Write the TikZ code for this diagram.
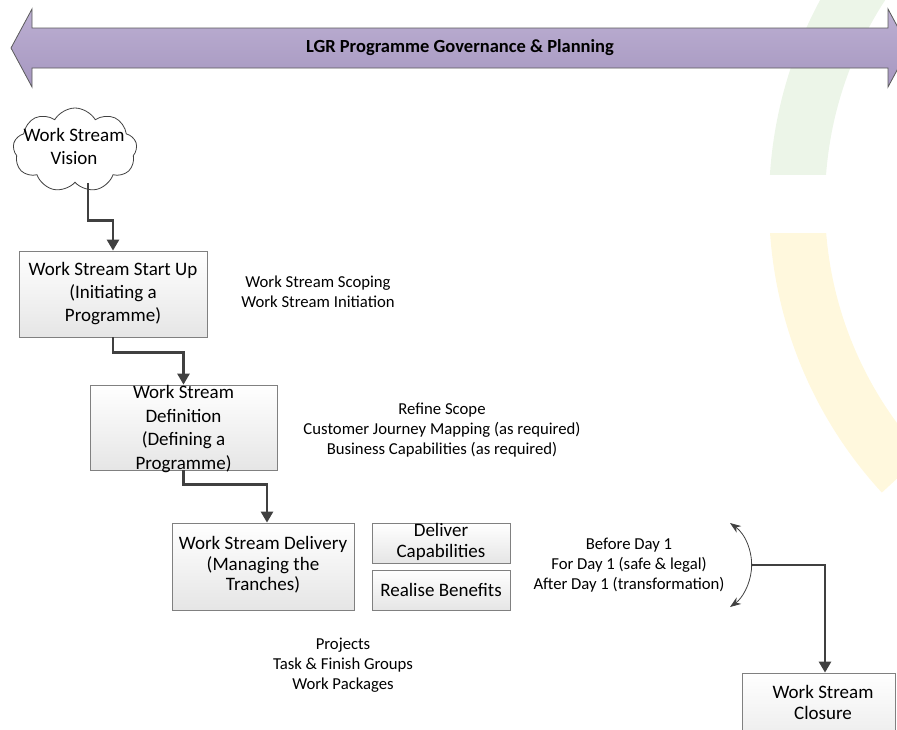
\documentclass[tikz,border=0pt]{standalone}
\usepackage{fontspec}
\setmainfont{Carlito}
\usetikzlibrary{shapes.symbols,arrows.meta}
\definecolor{conncol}{RGB}{64,64,64}
\definecolor{boxline}{RGB}{128,128,128}
\definecolor{purptop}{RGB}{188,175,210}
\definecolor{purpbot}{RGB}{166,151,192}
\definecolor{purpline}{RGB}{90,90,90}
\definecolor{arcgreen}{RGB}{236,245,232}
\definecolor{arcyellow}{RGB}{255,248,221}
\begin{document}
\begin{tikzpicture}[x=1pt,y=-1pt,
  procbox/.style={draw=boxline, line width=0.8pt, top color=white, bottom color=black!10, inner sep=0pt},
  boxtext/.style={align=center, font=\fontsize{19}{23}\selectfont, inner sep=0pt},
  note/.style={align=center, font=\fontsize{16.7}{19.8}\selectfont, inner sep=0pt},
  conn/.style={draw=conncol, line width=2.6pt, -{Triangle[width=12pt,length=11pt]}},
  curvarrow/.style={draw=conncol, line width=0.8pt, {Stealth[length=11pt,width=8pt]}-{Stealth[length=11pt,width=8pt]}},
]
\useasboundingbox (0,0) rectangle (897,729);
\clip (0,0) rectangle (897,729);
% background arcs
\begin{scope}
  \clip (700,0) rectangle (897,174);
  \fill[arcgreen, even odd rule] (1197,203) circle[radius=428] (1197,203) circle[radius=372];
\end{scope}
\begin{scope}
  \clip (700,233) -- (1000,233) -- (1197,203) -- (717,644) -- (700,644) -- cycle;
  \fill[arcyellow, even odd rule] (1197,203) circle[radius=428] (1197,203) circle[radius=372];
\end{scope}
% governance arrow
\draw[draw=purpline, line width=0.8pt, top color=purptop, bottom color=purpbot]
  (11,48) -- (32,9) -- (32,28) -- (888,28) -- (888,9) -- (909,48) -- (888,87) -- (888,68) -- (32,68) -- (32,87) -- cycle;
\node[font=\fontsize{18.5}{22}\selectfont\bfseries, inner sep=0pt] (gov) at (460,48) {LGR Programme Governance \& Planning};
% vision cloud
\node[cloud, draw=conncol, fill=white, line width=0.8pt, cloud puffs=9, cloud puff arc=120, aspect=1.5,
      minimum width=124pt, minimum height=84pt, inner sep=0pt] (vision) at (75,150) {};
\node[boxtext] (visiont) at (74,146) {Work Stream\\Vision};
% boxes
\node[procbox, minimum width=188pt, minimum height=86pt] (b1) at (113,294) {};
\node[boxtext] (b1t) at (b1) {Work Stream Start Up\\(Initiating a\\Programme)};
\node[procbox, minimum width=187pt, minimum height=85pt] (b2) at (183.5,427.5) {};
\node[boxtext, font=\fontsize{19}{23.4}\selectfont] (b2t) at (183.5,429) {Work Stream\\Definition\\(Defining a\\Programme)};
\node[procbox, minimum width=182pt, minimum height=87pt] (b3) at (263,566.5) {};
\node[boxtext, font=\fontsize{19}{20.5}\selectfont] (b3t) at (263,565) {Work Stream Delivery\\(Managing the\\Tranches)};
\node[procbox, minimum width=138pt, minimum height=40pt] (b4) at (441,543) {};
\node[boxtext, font=\fontsize{19}{21}\selectfont] (b4t) at (441,542) {Deliver\\Capabilities};
\node[procbox, minimum width=138pt, minimum height=40pt] (b5) at (441,590) {};
\node[boxtext] (b5t) at (b5) {Realise Benefits};
\node[procbox, minimum width=153pt, minimum height=90pt] (b6) at (818.5,718) {};
\node[boxtext, font=\fontsize{19}{21}\selectfont] (b6t) at (823,702) {Work Stream\\Closure};
% notes
\node[note] (n1) at (318,292) {Work Stream Scoping\\Work Stream Initiation};
\node[note] (n2) at (442,430) {Refine Scope\\Customer Journey Mapping (as required)\\Business Capabilities (as required)};
\node[note] (n3) at (629,565) {Before Day 1\\For Day 1 (safe \& legal)\\After Day 1 (transformation)};
\node[note] (n4) at (343,665) {Projects\\Task \& Finish Groups\\Work Packages};
% connectors
\draw[conn] ([xshift=13pt]vision.south) |- ([yshift=30pt]b1.north) -- (b1.north);
\draw[conn] (b1.south) |- ([yshift=32pt]b2.north) -- (b2.north);
\draw[conn] (b2.south) |- ([xshift=4pt,yshift=38pt]b3.north) -- ([xshift=4pt]b3.north);
% curved double arrow
\coordinate (ctop) at (730,523);
\coordinate (cmid) at (751.6,565);
\draw[curvarrow] (ctop) arc[start angle=-54.5, end angle=54.5, radius=51.6] coordinate (cbot);
\draw[conn] (cmid) -| ([xshift=6.5pt]b6.north);
\end{tikzpicture}
\end{document}
